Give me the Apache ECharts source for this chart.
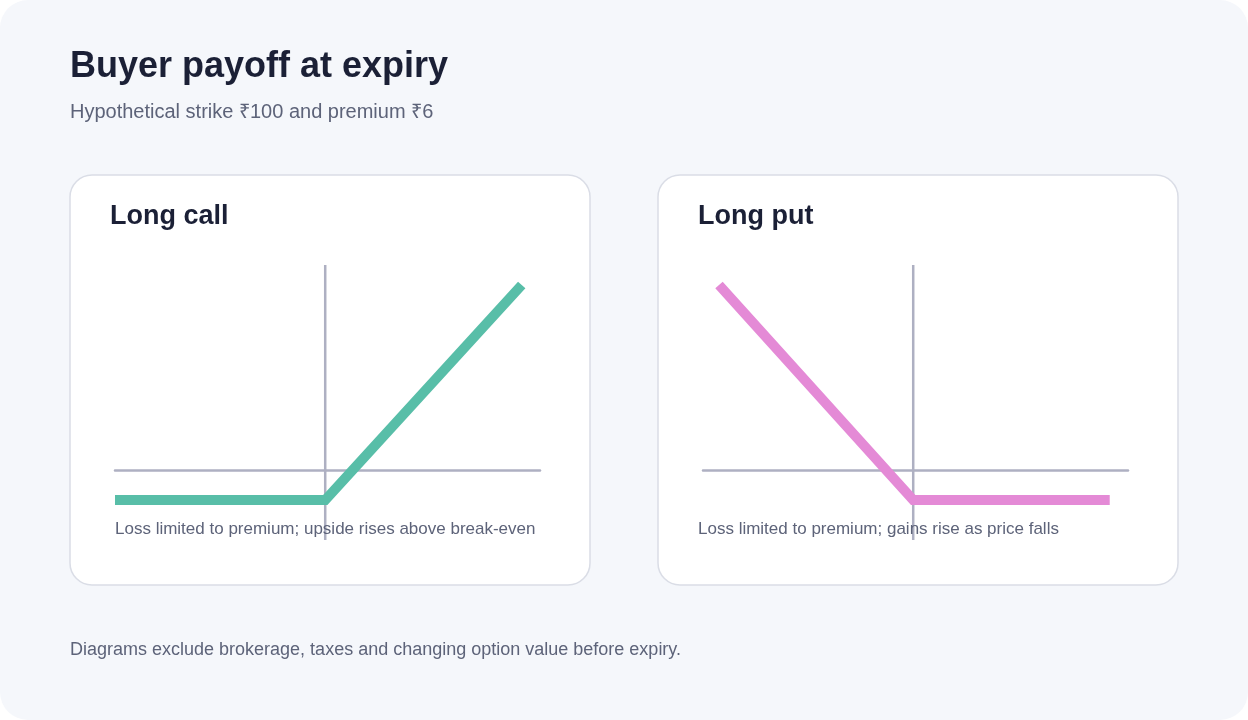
<!DOCTYPE html>
<html>
<head>
<meta charset="utf-8">
<script src="https://cdn.jsdelivr.net/npm/echarts@6/dist/echarts.min.js"></script>
<style>
  html, body { margin: 0; padding: 0; background: #ffffff; }
  #chart { width: 1248px; height: 720px; }
</style>
</head>
<body>
<div id="chart"></div>
<script>
// ---- data ----
const STRIKE = 100;
const PREMIUM = 6;
const callPrices = [54, 100, 143];
const callPayoff = [-6, -6, 37];
const putPrices = [57.5, 100, 143];
const putPayoff = [37, -6, -6];
const priceRange = [54, 147];
const payoffRange = [-14, 41];

const titleText = 'Buyer payoff at expiry';
const subtitleText = 'Hypothetical strike ₹100 and premium ₹6';
const panelTitles = ['Long call', 'Long put'];
const panelCaptions = ['Loss limited to premium; upside rises above break-even', 'Loss limited to premium; gains rise as price falls'];
const footnoteText = 'Diagrams exclude brokerage, taxes and changing option value before expiry.';

// ---- styles ----
const FONT = '"Liberation Sans", Arial, Helvetica, sans-serif';
const AXIS_COLOR = '#aeb0c2';
const CALL_COLOR = '#58bea8';
const PUT_COLOR = '#e48ad6';

const zip = (xs, ys) => xs.map((x, i) => [x, ys[i]]);

const chart = echarts.init(document.getElementById('chart'), null, { renderer: 'canvas' });

const cardW = 520, cardH = 410, cardTop = 175;
const cardLefts = [70, 658];

const graphics = [
  { type: 'rect', shape: { x: 0, y: 0, width: 1248, height: 720, r: 28 }, style: { fill: '#f5f7fb' }, z: -10 },
];
cardLefts.forEach((cx, i) => {
  graphics.push({ type: 'rect', shape: { x: cx, y: cardTop, width: cardW, height: cardH, r: 22 }, style: { fill: '#ffffff', stroke: '#dadde6', lineWidth: 1.5 }, z: -9 });
  graphics.push({ type: 'text', x: cx + 40, y: 217, style: { text: panelTitles[i], font: 'bold 27px ' + FONT, fill: '#1b2036', verticalAlign: 'middle', align: 'left' }, z: 5 });
});
graphics.push({ type: 'text', x: 115, y: 529, style: { text: panelCaptions[0], font: '17px ' + FONT, fill: '#5d6379', verticalAlign: 'middle', align: 'left' }, z: 5 });
graphics.push({ type: 'text', x: 698, y: 529, style: { text: panelCaptions[1], font: '17px ' + FONT, fill: '#5d6379', verticalAlign: 'middle', align: 'left' }, z: 5 });
graphics.push({ type: 'text', x: 70, y: 67, style: { text: titleText, font: 'bold 36px ' + FONT, fill: '#1b2036', verticalAlign: 'middle', align: 'left' }, z: 5 });
graphics.push({ type: 'text', x: 70, y: 112, style: { text: subtitleText, font: '20px ' + FONT, fill: '#5d6379', verticalAlign: 'middle', align: 'left' }, z: 5 });
graphics.push({ type: 'text', x: 70, y: 650, style: { text: footnoteText, font: '18px ' + FONT, fill: '#5d6379', verticalAlign: 'middle', align: 'left' }, z: 5 });

function xAxisCfg(gi) {
  return {
    type: 'value', gridIndex: gi, min: priceRange[0], max: priceRange[1],
    axisLine: { show: true, onZero: true, lineStyle: { color: AXIS_COLOR, width: 2.5 } },
    axisTick: { show: false }, axisLabel: { show: false }, splitLine: { show: false }
  };
}
function yAxisCfg(gi) {
  return {
    type: 'value', gridIndex: gi, min: payoffRange[0], max: payoffRange[1],
    axisLine: { show: false }, axisTick: { show: false }, axisLabel: { show: false }, splitLine: { show: false }
  };
}
function strikeSeries(gi) {
  return {
    type: 'line', xAxisIndex: gi, yAxisIndex: gi, z: 1,
    data: [[STRIKE, payoffRange[0]], [STRIKE, payoffRange[1]]],
    symbol: 'none', silent: true,
    lineStyle: { color: AXIS_COLOR, width: 2.5 }
  };
}

chart.setOption({
  animation: false,
  backgroundColor: '#ffffff',
  graphic: graphics,
  grid: [
    { left: 115, top: 265, width: 425, height: 275 },
    { left: 703, top: 265, width: 425, height: 275 }
  ],
  xAxis: [xAxisCfg(0), xAxisCfg(1)],
  yAxis: [yAxisCfg(0), yAxisCfg(1)],
  series: [
    strikeSeries(0),
    strikeSeries(1),
    {
      name: 'Long call', type: 'line', xAxisIndex: 0, yAxisIndex: 0, z: 3,
      data: zip(callPrices, callPayoff), symbol: 'none',
      lineStyle: { color: CALL_COLOR, width: 10, cap: 'butt', join: 'miter' }
    },
    {
      name: 'Long put', type: 'line', xAxisIndex: 1, yAxisIndex: 1, z: 3,
      data: zip(putPrices, putPayoff), symbol: 'none',
      lineStyle: { color: PUT_COLOR, width: 10, cap: 'butt', join: 'miter' }
    }
  ]
});
</script>
</body>
</html>
